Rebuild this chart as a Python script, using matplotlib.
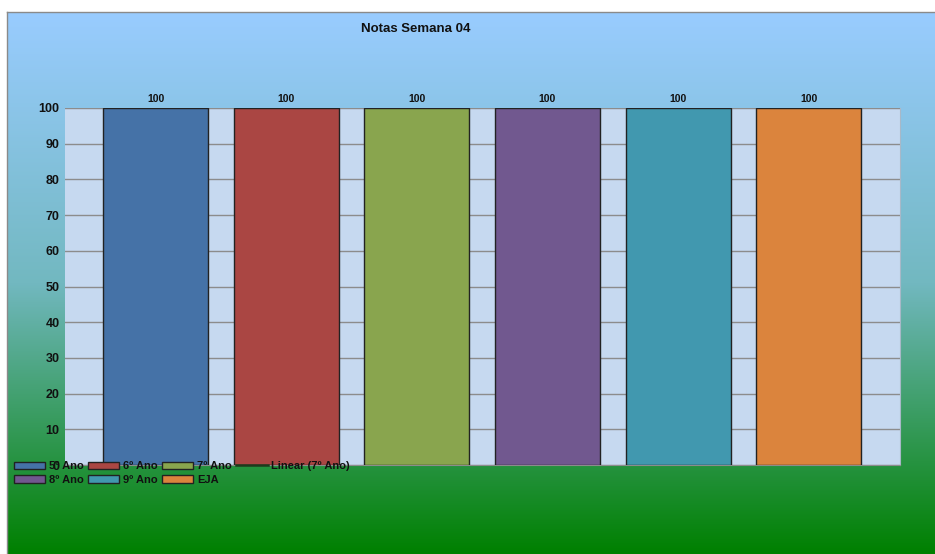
import numpy as np
import matplotlib
matplotlib.use("Agg")
import matplotlib.pyplot as plt
from matplotlib.colors import LinearSegmentedColormap

plt.rcParams['font.family'] = ['Liberation Sans', 'DejaVu Sans']

title = "Notas Semana 04"
series = ["5º Ano", "6º Ano", "7º Ano", "8º Ano", "9º Ano", "EJA"]
values = [100, 100, 100, 100, 100, 100]
colors = ["#4572A7", "#AA4643", "#89A54E", "#71588F", "#4198AF", "#DB843D"]
yticks = list(range(0, 101, 10))

W, H = 935, 554
fig = plt.figure(figsize=(W / 100, H / 100), dpi=100)
fig.patch.set_facecolor("white")

# chart-area gradient background (light blue to green)
bg = fig.add_axes([7 / W, 0, 1 - 7 / W, 1 - 12 / H])
cmap = LinearSegmentedColormap.from_list("bg", ["#99CCFF", "#72B8C0", "#008000"])
grad = np.linspace(0, 1, 256).reshape(-1, 1)
bg.imshow(grad, aspect="auto", cmap=cmap, extent=[0, 1, 0, 1], origin="upper")
bg.set_xticks([])
bg.set_yticks([])
for s in ["right", "bottom"]:
    bg.spines[s].set_visible(False)
for s in ["top", "left"]:
    bg.spines[s].set_color("#8a8a8a")
    bg.spines[s].set_linewidth(1)

fig.text(416 / W, 1 - 29 / H, title, ha="center", va="center",
         fontsize=9.5, fontweight="bold", color="#111111")

ax = fig.add_axes([65 / W, 1 - 465 / H, (900 - 65) / W, (465 - 108) / H])
ax.set_facecolor("#C6D9F0")
ax.set_zorder(2)
x = np.arange(len(series))
bars = ax.bar(x, values, width=0.804, color=colors, edgecolor="#222222",
              linewidth=1, zorder=3, label=series)
for xi, v in zip(x, values):
    ax.annotate(f"{v}", (xi, v), xytext=(0, 3), textcoords="offset points",
                ha="center", va="bottom", fontsize=7.5, fontweight="bold",
                color="#111111")

# linear trend for 7º Ano (single point)
trend, = ax.plot([x[2]], [values[2]], color="#1d3b1d", linewidth=1.8,
                 label="Linear (7º Ano)", zorder=2)

ax.set_xlim(-0.695, 5.70)
ax.set_ylim(0, 100)
ax.set_yticks(yticks)
ax.set_xticks([])
ax.tick_params(axis="y", length=0, pad=4, labelsize=9, colors="#111111")
for lbl in ax.get_yticklabels():
    lbl.set_fontweight("bold")
ax.yaxis.grid(True, color="#8c8c8c", linewidth=1)
ax.set_axisbelow(True)
for s in ax.spines.values():
    s.set_visible(False)
ax.spines["bottom"].set_visible(True)
ax.spines["bottom"].set_color("#8c8c8c")
ax.spines["right"].set_visible(True)
ax.spines["right"].set_color("#a8b8c8")

# legend, row-major order via column-major filling
order = [0, 3, 1, 4, 2, 5]
handles = [bars[i] for i in order] + [trend]
labels = [series[i] for i in order] + ["Linear (7º Ano)"]
leg = fig.legend(handles, labels, ncol=4, loc="upper left",
                 bbox_to_anchor=(14 / W, 1 - 461 / H), frameon=False,
                 prop={"size": 8, "weight": "bold"}, handlelength=2.8,
                 handleheight=0.6, handletextpad=0.35, columnspacing=0.4,
                 labelspacing=0.35, borderpad=0, borderaxespad=0)
for t in leg.get_texts():
    t.set_color("#111111")
leg.set_zorder(10)

fig.savefig("out.png", dpi=100)
